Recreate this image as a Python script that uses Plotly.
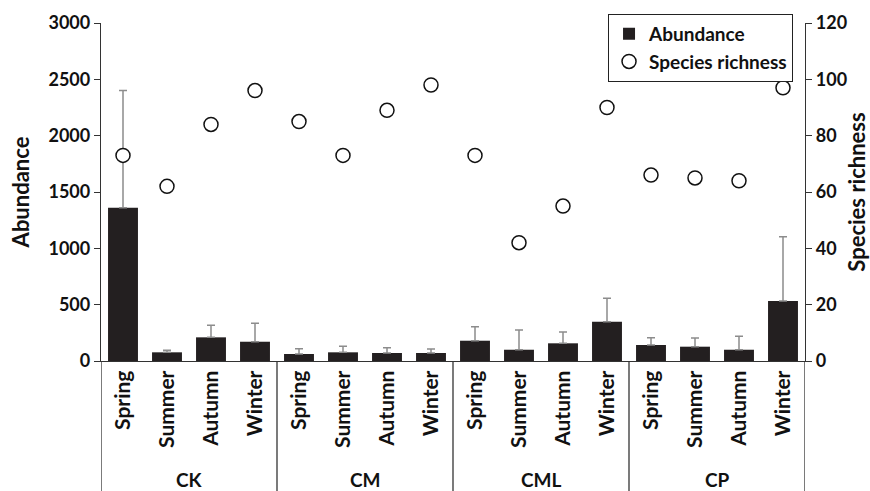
import plotly.graph_objects as go

groups = ["CK", "CM", "CML", "CP"]
seasons = ["Spring", "Summer", "Autumn", "Winter"]
abundance = [1360, 77, 210, 171, 62, 77, 71, 71, 180, 100, 157, 349, 142, 127, 100, 532]
abundance_err = [1040, 18, 107, 163, 47, 53, 47, 35, 124, 175, 100, 207, 65, 77, 119, 571]
richness = [73, 62, 84, 96, 85, 73, 89, 98, 73, 42, 55, 90, 66, 65, 64, 97]

labels = [s for g in groups for s in seasons]
xs = list(range(len(labels)))

FONT = "Lato"
AX = "#333333"
TXT = "#111111"

fig = go.Figure()
fig.add_trace(go.Bar(
    x=xs, y=abundance, name="Abundance",
    marker=dict(color="#231f20", line=dict(width=0)),
    error_y=dict(type="data", array=abundance_err, symmetric=False,
                 arrayminus=[0] * len(abundance), color="#8c8c8c",
                 thickness=1.5, width=4),
))
fig.add_trace(go.Scatter(
    x=xs, y=richness, name="Species richness", mode="markers", yaxis="y2",
    marker=dict(symbol="circle", size=14, color="white",
                line=dict(color="#111111", width=1.5)),
))

fig.update_layout(
    width=870, height=491,
    margin=dict(l=101, r=65, t=23, b=130, autoexpand=False),
    plot_bgcolor="white", paper_bgcolor="white",
    font=dict(family=FONT, size=18, color=TXT),
    bargap=0.32,
    showlegend=True,
    legend=dict(x=0.983, y=1.027, xanchor="right", yanchor="top",
                bordercolor="#222222", borderwidth=1, bgcolor="white",
                font=dict(family=FONT, size=19, color=TXT, weight="bold"),
                itemwidth=30, tracegroupgap=2),
    xaxis=dict(range=[-0.5, len(labels) - 0.5], tickmode="array",
               tickvals=xs, ticktext=labels, tickangle=-90, automargin=False,
               showline=True, linecolor=AX, linewidth=1.3,
               ticks="", showgrid=False, zeroline=False,
               tickfont=dict(family=FONT, size=21, weight="bold", color=TXT)),
    yaxis=dict(range=[0, 3000], dtick=500, showline=True, linecolor=AX,
               linewidth=1.3, ticks="outside", ticklen=6, tickcolor=AX,
               showgrid=False, zeroline=False, automargin=False,
               title=dict(text="Abundance", font=dict(family=FONT, size=22, weight="bold", color=TXT),
                          standoff=12),
               tickfont=dict(family=FONT, size=18, weight="bold", color=TXT)),
    yaxis2=dict(range=[0, 120], dtick=20, overlaying="y", side="right",
                showline=True, linecolor=AX, linewidth=1.3, ticks="outside",
                ticklen=6, tickcolor=AX, showgrid=False, zeroline=False,
                automargin=False,
                title=dict(text="Species richness", font=dict(family=FONT, size=22, weight="bold", color=TXT),
                           standoff=10),
                tickfont=dict(family=FONT, size=18, weight="bold", color=TXT)),
)

# group dividers and labels
for i in range(len(groups) + 1):
    xv = i * len(seasons) - 0.5
    fig.add_shape(type="line", xref="x", yref="paper", x0=xv, x1=xv,
                  y0=0, y1=-0.39, line=dict(color=AX, width=1.3))
for i, g in enumerate(groups):
    fig.add_annotation(x=i * len(seasons) + 1.5, y=-0.352, xref="x", yref="paper",
                       text=g, showarrow=False, yanchor="middle",
                       font=dict(family=FONT, size=19, weight="bold", color=TXT))

fig.write_html("out.html")
